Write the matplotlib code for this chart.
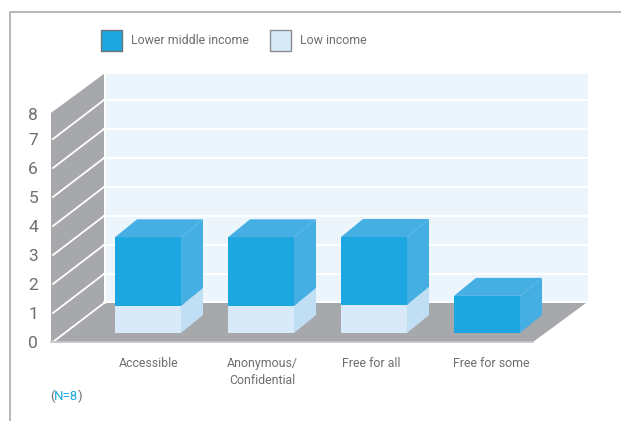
import matplotlib
matplotlib.use('Agg')
import matplotlib.pyplot as plt
from matplotlib.patches import Polygon, Rectangle

categories = ['Accessible', 'Anonymous/\nConfidential', 'Free for all', 'Free for some']
low_income = [0.93, 0.93, 0.97, 0]
lower_middle = [2.37, 2.37, 2.34, 1.28]
y_ticks = [0, 1, 2, 3, 4, 5, 6, 7, 8]
legend_labels = ['Lower middle income', 'Low income']

BLUE = '#1ca7e0'
BLUE_SIDE = '#45aee3'
PALE = '#d8eaf8'
PALE_SIDE = '#c0dff4'
GREY = '#a7a8ab'
WALL = '#ecf5fc'
TEXT = '#6d6e71'
FONT = ['Roboto', 'Liberation Sans']

PX_X = 113.0  # pixels per category
PX_Y = 29.0   # pixels per unit
X0 = 148.0    # pixel of first category
Y0 = 342.0    # pixel of value 0

fig = plt.figure(figsize=(6.21, 4.21), dpi=100)
ax = fig.add_axes([0, 0, 1, 1])
ax.set_xlim(-X0 / PX_X, (621 - X0) / PX_X)
ax.set_ylim((Y0 - 421) / PX_Y, Y0 / PX_Y)
ax.axis('off')

# depth of the room and of the boxes
room_dx, room_dy = 53 / PX_X, 39 / PX_Y
box_dx, box_dy = 22 / PX_X, 18 / PX_Y
half_w = 33 / PX_X
lift = 9 / PX_Y
wall_top = 7.9
left = (51 - X0) / PX_X
right = (533 - X0) / PX_X
back_right = right + room_dx + 2 / PX_X


def poly(pts, color, z=1):
    ax.add_patch(Polygon(pts, closed=True, facecolor=color, edgecolor='none', zorder=z))


def box(xc, y0, y1, front, side, top=None, z=3):
    a, b = xc - half_w, xc + half_w
    poly([(a, y0), (b, y0), (b, y1), (a, y1)], front, z)
    poly([(b, y0), (b + box_dx, y0 + box_dy), (b + box_dx, y1 + box_dy), (b, y1)], side, z)
    if top:
        poly([(a, y1), (b, y1), (b + box_dx, y1 + box_dy), (a + box_dx, y1 + box_dy)], top, z)


# back wall, side wall, floor
poly([(left + room_dx, room_dy), (back_right, room_dy),
      (back_right, wall_top + room_dy), (left + room_dx, wall_top + room_dy)], WALL)
poly([(left, 0), (left + room_dx, room_dy),
      (left + room_dx, wall_top + room_dy), (left, wall_top)], GREY)
poly([(left, 0), (right, 0), (right + room_dx, room_dy), (left + room_dx, room_dy)], GREY)

# grid lines
for v in y_ticks[:-1]:
    ax.plot([left + 2 / PX_X, left + room_dx], [v, v + room_dy], color='white', lw=1.3, zorder=2)
    if v > 0:
        ax.plot([left + room_dx, back_right], [v + room_dy, v + room_dy],
                color='white', lw=1.5, zorder=2)
ax.plot([left + room_dx + 0.006, left + room_dx + 0.006], [room_dy, wall_top + room_dy],
        color='white', lw=1.3, zorder=2)
ax.plot([left + room_dx, back_right], [room_dy + 0.02, room_dy + 0.02],
        color='white', lw=1.2, zorder=2)
ax.plot([left, right], [0, 0], color='#c4c5c7', lw=1.2, zorder=2)

# boxes
for i in range(len(categories)):
    base = lift
    if low_income[i] > 0:
        box(i, base, base + low_income[i], PALE, PALE_SIDE)
        base += low_income[i]
    box(i, base, base + lower_middle[i], BLUE, BLUE_SIDE, BLUE_SIDE, z=4)

# axis labels
for v in y_ticks:
    ax.text(left - 13 / PX_X, min(v, wall_top - 0.03) - 1.5 / PX_Y, str(v), ha='right', va='center',
            color=TEXT, fontsize=12.5, family=FONT)
label_shift = [1, 1, -3, 4]
for i, c in enumerate(categories):
    ax.text(i + label_shift[i] / PX_X, -15 / PX_Y, c, ha='center', va='top', color=TEXT,
            fontsize=8.9, family=FONT, linespacing=1.4)

# legend
swatches = [(BLUE, '#6d7478'), (PALE, '#8a8d90')]
for px, (col, edge), lab in zip([101, 270], swatches, legend_labels):
    ax.add_patch(Rectangle(((px - X0) / PX_X, (Y0 - 51) / PX_Y), 21 / PX_X, 21 / PX_Y,
                           facecolor=col, edgecolor=edge, lw=1.0, zorder=5))
    ax.text((px + 30 - X0) / PX_X, (Y0 - 41) / PX_Y, lab, ha='left', va='center',
            color=TEXT, fontsize=8.9, family=FONT)

# note
note_y = (Y0 - 396) / PX_Y
ax.text((50.5 - X0) / PX_X, note_y, '(', ha='left', va='center', color=TEXT, fontsize=9.5, family=FONT)
ax.text((54 - X0) / PX_X, note_y, 'N=8', ha='left', va='center', color=BLUE, fontsize=9.5, family=FONT)
ax.text((78 - X0) / PX_X, note_y, ')', ha='left', va='center', color=TEXT, fontsize=9.5, family=FONT)

# frame, top and left only
ax.plot([(9.5 - X0) / PX_X, (9.5 - X0) / PX_X, (621 - X0) / PX_X],
        [(Y0 - 421) / PX_Y, (Y0 - 12.5) / PX_Y, (Y0 - 12.5) / PX_Y], color='#a3a3a3', lw=1.1, zorder=6)

fig.savefig('out.png', dpi=100)
